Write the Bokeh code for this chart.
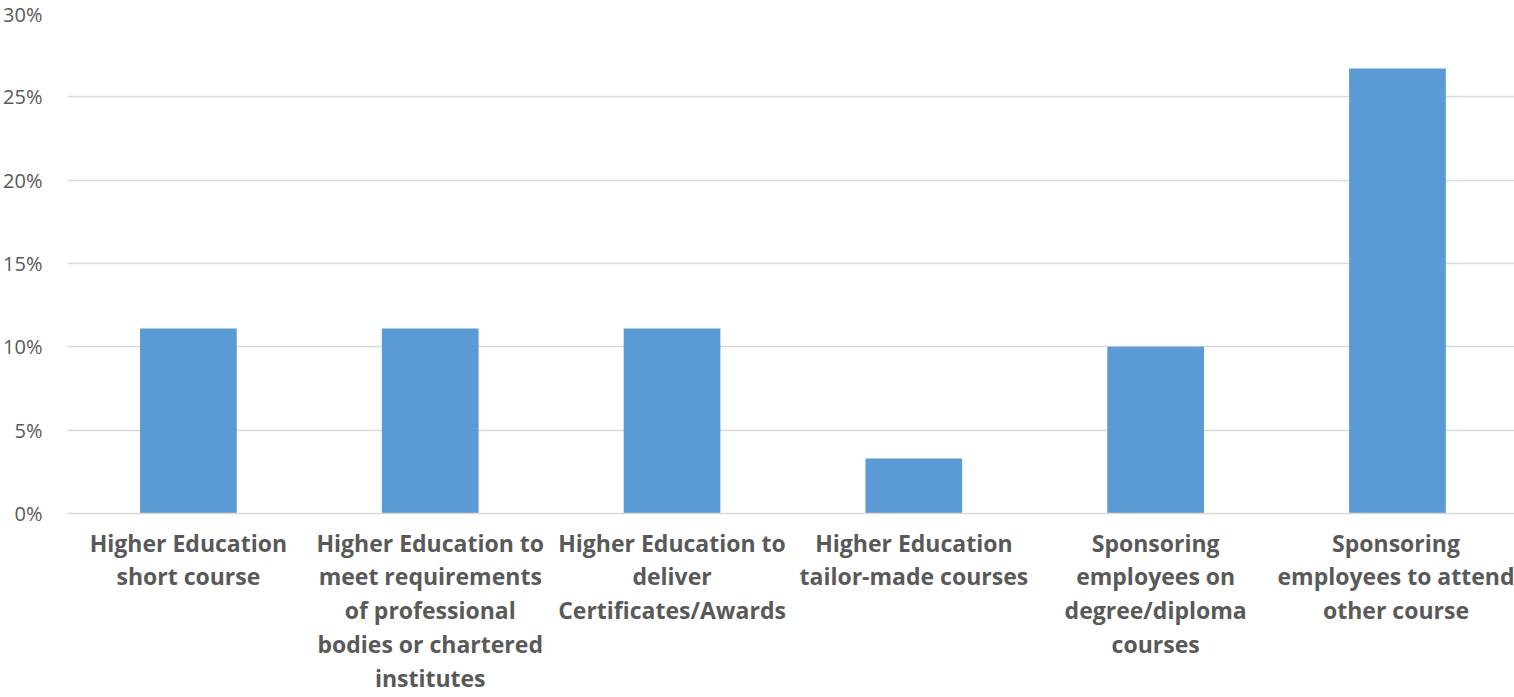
from bokeh.plotting import figure
from bokeh.models import Range1d, FixedTicker, NumeralTickFormatter, ColumnDataSource
from bokeh.embed import file_html
from bokeh.resources import INLINE

categories = [
    "Higher Education\nshort course",
    "Higher Education to\nmeet requirements\nof professional\nbodies or chartered\ninstitutes",
    "Higher Education to\ndeliver\nCertificates/Awards",
    "Higher Education\ntailor-made courses",
    "Sponsoring\nemployees on\ndegree/diploma\ncourses",
    "Sponsoring\nemployees to attend\nother course",
]
values = [0.111, 0.111, 0.111, 0.033, 0.100, 0.267]
y_ticks = [0.0, 0.05, 0.10, 0.15, 0.20, 0.25, 0.30]

idx = [i + 0.5 for i in range(len(categories))]
src = ColumnDataSource(dict(x=idx, top=values))

p = figure(width=1514, height=697, output_backend="svg", toolbar_location=None,
           x_range=Range1d(0, 5.984), y_range=Range1d(0, 0.30))
p.min_border_left = 67
p.min_border_right = 0
p.min_border_top = 13
p.min_border_bottom = 184
p.outline_line_color = None
p.background_fill_color = "white"
p.border_fill_color = "white"

p.vbar(x="x", top="top", bottom=0, width=0.4, source=src,
       fill_color="#5B9BD5", line_color=None)

# x axis
xa = p.xaxis[0]
xa.ticker = FixedTicker(ticks=idx)
xa.major_label_overrides = {v: c for v, c in zip(idx, categories)}
xa.major_tick_line_color = None
xa.minor_tick_line_color = None
xa.axis_line_color = "#D9D9D9"
xa.axis_line_width = 1.5
xa.major_label_text_font = "Open Sans"
xa.major_label_text_font_style = "bold"
xa.major_label_text_font_size = "23px"
xa.major_label_text_color = "#595959"
xa.major_label_text_line_height = 1.06
xa.major_label_standoff = 7
xa.major_label_orientation = "horizontal"

# y axis
ya = p.yaxis[0]
ya.ticker = FixedTicker(ticks=y_ticks)
ya.formatter = NumeralTickFormatter(format="0%")
ya.major_tick_line_color = None
ya.minor_tick_line_color = None
ya.axis_line_color = None
ya.major_label_text_font = "Open Sans"
ya.major_label_text_font_size = "20px"
ya.major_label_text_color = "#595959"
ya.major_label_standoff = 19

p.xgrid.grid_line_color = None
p.ygrid.ticker = FixedTicker(ticks=y_ticks)
p.ygrid.grid_line_color = "#D9D9D9"
p.ygrid.grid_line_width = 1.5

open("out.html", "w").write(file_html(p, INLINE))
